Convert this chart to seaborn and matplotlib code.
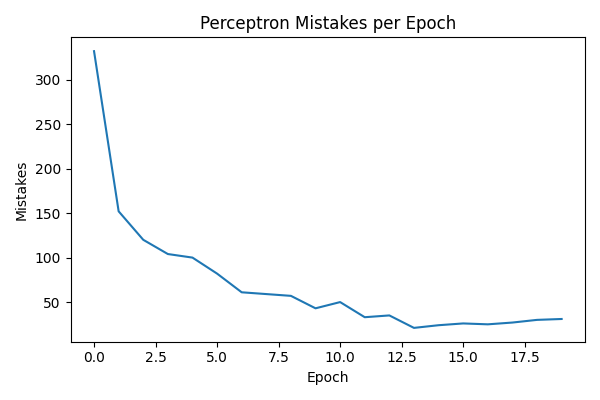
import numpy as np
import pandas as pd
import matplotlib
matplotlib.use("Agg")
import matplotlib.pyplot as plt
import seaborn as sns

# Mistakes counted in each training epoch
epochs = list(range(20))
mistakes = [332, 152, 120, 104, 100, 82, 61, 59, 57, 43,
            50, 33, 35, 21, 24, 26, 25, 27, 30, 31]

data = pd.DataFrame({"Epoch": epochs, "Mistakes": mistakes})

fig, ax = plt.subplots(figsize=(6, 4), dpi=100)
sns.lineplot(data=data, x="Epoch", y="Mistakes", color="#1f77b4", ax=ax)
ax.set_title("Perceptron Mistakes per Epoch")
ax.set_xlabel("Epoch")
ax.set_ylabel("Mistakes")
plt.tight_layout()
plt.savefig("out.png")
